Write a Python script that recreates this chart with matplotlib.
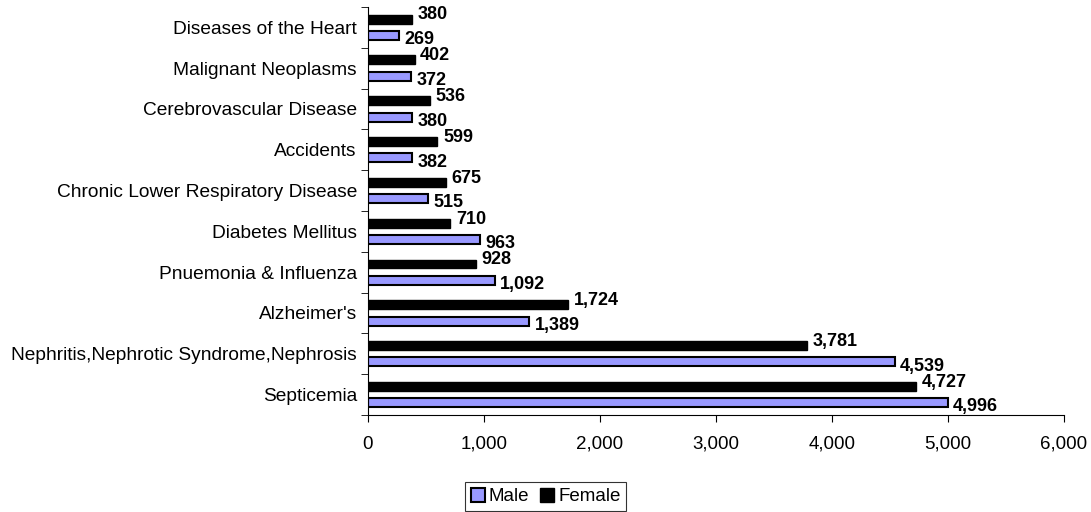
import matplotlib.pyplot as plt
import numpy as np

plt.rcParams['font.family'] = ['Liberation Sans', 'DejaVu Sans']

categories = ["Diseases of the Heart", "Malignant Neoplasms", "Cerebrovascular Disease",
              "Accidents", "Chronic Lower Respiratory Disease", "Diabetes Mellitus",
              "Pnuemonia & Influenza", "Alzheimer's",
              "Nephritis,Nephrotic Syndrome,Nephrosis", "Septicemia"]
female = [380, 402, 536, 599, 675, 710, 928, 1724, 3781, 4727]
male = [269, 372, 380, 382, 515, 963, 1092, 1389, 4539, 4996]
xticks = [0, 1000, 2000, 3000, 4000, 5000, 6000]

fig = plt.figure(figsize=(10.91, 5.12), dpi=100)
ax = fig.add_axes([0.3373, 0.1895, 0.638, 0.797])

y = np.arange(len(categories))
h = 0.22
off = 0.2
ax.barh(y + off, male, height=h, color='#9999FF', edgecolor='black', linewidth=1.5, label='Male')
ax.barh(y - off, female, height=h, color='black', edgecolor='black', linewidth=1.0, label='Female')

for yi, v in zip(y, female):
    ax.annotate(f"{v:,}", (v, yi - off), xytext=(4, 3), textcoords='offset points',
                ha='left', va='center', fontsize=13, fontweight='bold')
for yi, v in zip(y, male):
    ax.annotate(f"{v:,}", (v, yi + off), xytext=(4, -3), textcoords='offset points',
                ha='left', va='center', fontsize=13, fontweight='bold')

ax.set_xlim(0, 6000)
ax.set_ylim(len(categories) - 0.5, -0.5)
ax.set_xticks(xticks)
ax.set_xticklabels([f"{t:,}" for t in xticks], fontsize=13.5)
ax.set_yticks(y)
ax.set_yticklabels(categories, fontsize=13.8)
ax.tick_params(axis='y', length=0, pad=8)
ax.set_yticks(np.arange(-0.5, len(categories), 1), minor=True)
ax.tick_params(axis='y', which='minor', length=5, direction='out')
ax.tick_params(axis='x', length=5, direction='out', pad=10)
ax.spines['top'].set_visible(False)
ax.spines['right'].set_visible(False)

leg = fig.legend(loc='center', bbox_to_anchor=(0.5, 0.03), ncol=2, fontsize=13.5,
                 frameon=True, fancybox=False, edgecolor='black', handlelength=0.75,
                 handleheight=0.75, handletextpad=0.2, columnspacing=0.6, borderpad=0.3)
leg.get_frame().set_linewidth(0.8)

fig.savefig('out.png', dpi=100)
